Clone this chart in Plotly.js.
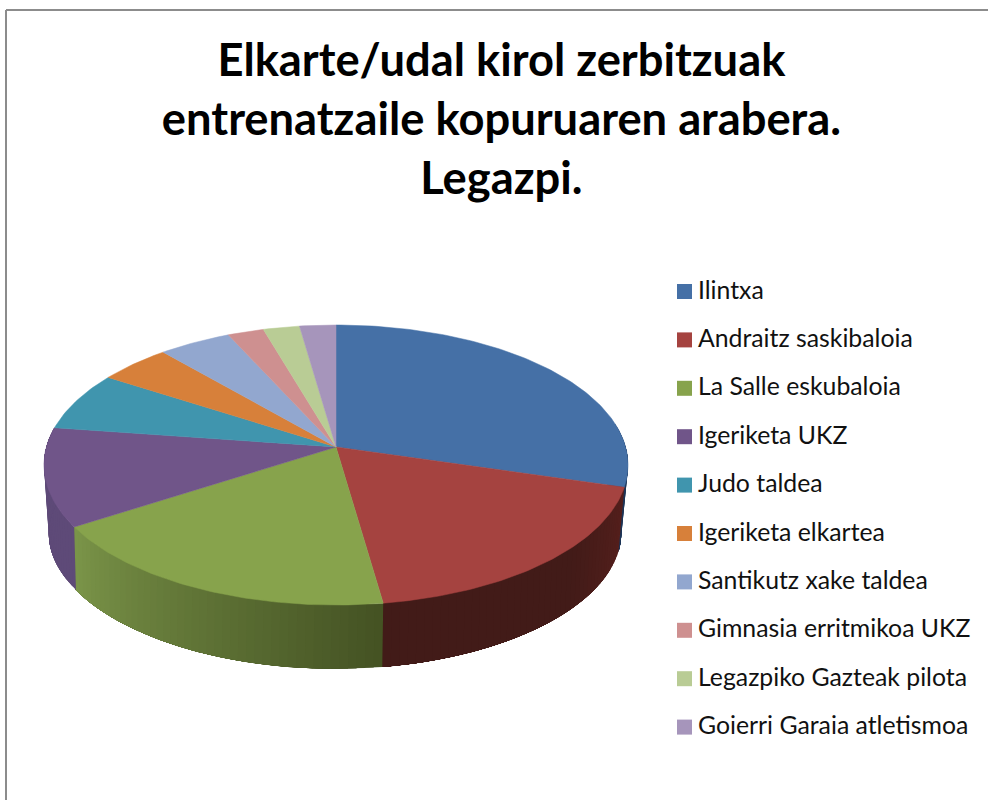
<!DOCTYPE html>
<html>
<head>
<meta charset="utf-8">
<script src="https://cdn.plot.ly/plotly-3.0.1.min.js"></script>
<style>html,body{margin:0;padding:0;background:#fff}#chart{width:988px;height:800px}</style>
</head>
<body>
<div id="chart"></div>
<script>
var titleText = "Elkarte/udal kirol zerbitzuak<br>entrenatzaile kopuruaren arabera.<br>Legazpi.";
var categories = ["Ilintxa","Andraitz saskibaloia","La Salle eskubaloia","Igeriketa UKZ","Judo taldea","Igeriketa elkartea","Santikutz xake taldea","Gimnasia erritmikoa UKZ","Legazpiko Gazteak pilota","Goierri Garaia atletismoa"];
var values = [13,8,8,5,3,2,2,1,1,1];
var colors = ["#4570a6","#a54340","#87a34c","#705589","#4095ae","#d7803a","#92a7cf","#ce9090","#b9cc95","#a695bb"];
var wallFrom = ["#1d3557","#551f1c","#445223","#5e4a78",null,null,null,null,null,null];
var wallTo   = ["#1d3557","#421b18","#7b9549","#5e4a78",null,null,null,null,null,null];

var total = values.reduce(function(a,b){return a+b;},0);
var top_ = {cx:336, cy:447, R:289.6, S:137.7, k:0.1286, kx:0.1286};
var bot_ = {cx:335, cy:514, R:283, S:127, k:0.18, kx:0.15};
function pt(p, th){
  var u = Math.sin(th), v = Math.cos(th);
  return [p.cx + p.R*u/(1+p.kx*v), p.cy - p.S*v/(1+p.k*v)];
}
function hex(c){return [1,3,5].map(function(i){return parseInt(c.substr(i,2),16);});}
function mix(a,b,t){
  var A=hex(a),B=hex(b);
  return "rgb("+A.map(function(x,i){return Math.round(x+(B[i]-x)*t);}).join(",")+")";
}
var DEG = Math.PI/180;
var traces = [], wedges = [];
var cum = 0;
values.forEach(function(val,i){
  var a0 = cum/total*360, a1 = (cum+val)/total*360;
  cum += val;
  // top face
  var xs=[top_.cx], ys=[top_.cy];
  for(var a=a0;a<a1;a+=1){var q=pt(top_,a*DEG);xs.push(q[0]);ys.push(q[1]);}
  var e=pt(top_,a1*DEG);xs.push(e[0],top_.cx);ys.push(e[1],top_.cy);
  wedges.push({type:"scatter",mode:"lines",x:xs,y:ys,fill:"toself",fillcolor:colors[i],
    line:{color:colors[i],width:0.5},name:categories[i],text:categories[i]+": "+val,hoverinfo:"text",showlegend:false});
  // outer wall, front half only; each band overlaps the next to hide seams
  if(wallFrom[i]){
    var s0 = i===0 ? 80 : a0, s1 = i===3 ? Math.min(a1,285) : a1;
    var n = Math.ceil((s1-s0)/1.5);
    for(var j=0;j<n;j++){
      var b0=s0+(s1-s0)*j/n, b1=s1;
      var xw=[],yw=[],t;
      for(t=0;t<=8;t++){var c=pt(top_,(b0+(b1-b0)*t/8)*DEG);xw.push(c[0]);yw.push(c[1]);}
      for(t=8;t>=0;t--){var d=pt(bot_,(b0+(b1-b0)*t/8)*DEG);xw.push(d[0]);yw.push(d[1]);}
      xw.push(xw[0]);yw.push(yw[0]);
      var col=mix(wallFrom[i],wallTo[i],i===1?Math.min(1,(j+0.5)/n*2.5):(j+0.5)/n);
      traces.push({type:"scatter",mode:"lines",x:xw,y:yw,fill:"toself",fillcolor:col,line:{width:0},hoverinfo:"skip",showlegend:false});
    }
  }
});
var legendY = categories.map(function(c,i){return 291.5+i*48.4;});
var legendMarks = {type:"scatter",mode:"markers",x:categories.map(function(){return 684.5;}),y:legendY,
  marker:{symbol:"square",size:15,color:colors,line:{width:0}},hoverinfo:"skip",showlegend:false};
var legendText = {type:"scatter",mode:"text",x:categories.map(function(){return 698;}),y:legendY.map(function(y){return y+1;}),
  text:categories,textposition:"middle right",cliponaxis:false,
  textfont:{family:"Lato, Carlito, sans-serif",size:24.8,color:"#111"},hoverinfo:"skip",showlegend:false};
var layout = {
  width:988,height:800,margin:{l:0,r:0,t:0,b:0},paper_bgcolor:"#fff",plot_bgcolor:"#fff",showlegend:false,
  title:{text:titleText,x:0.5075,xanchor:"center",y:0.9045,yanchor:"top",
    font:{family:"Lato, Carlito, sans-serif",size:45.3,color:"#000",weight:700}},
  xaxis:{range:[0,988],visible:false,fixedrange:true},
  yaxis:{range:[800,0],visible:false,fixedrange:true},
  shapes:[
    {type:"line",xref:"x",yref:"y",x0:6,x1:6,y0:10,y1:800,line:{color:"#8c8c8c",width:2}},
    {type:"line",xref:"x",yref:"y",x0:6,x1:988,y0:10,y1:10,line:{color:"#8c8c8c",width:2}}
  ]
};
Plotly.newPlot("chart",traces.concat(wedges,[legendMarks,legendText]),layout,{displayModeBar:false,staticPlot:true});
</script>
</body>
</html>
